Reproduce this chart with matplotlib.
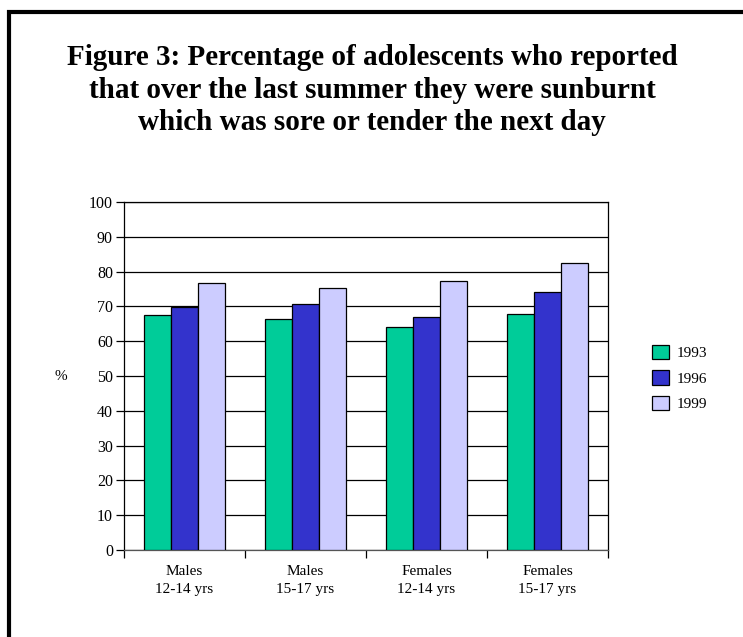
import matplotlib.pyplot as plt
from matplotlib.patches import Rectangle, Patch
import numpy as np

plt.rcParams['font.family'] = ['Liberation Serif', 'DejaVu Serif']

groups = ['Males\n12-14 yrs', 'Males\n15-17 yrs', 'Females\n12-14 yrs', 'Females\n15-17 yrs']
years = ['1993', '1996', '1999']
pct_1993 = [67.5, 66.3, 64.2, 67.9]
pct_1996 = [69.9, 70.6, 67.0, 74.0]
pct_1999 = [76.8, 75.4, 77.3, 82.6]
colors = ['#00CC99', '#3333CC', '#CCCCFF']

W, H = 743, 637
fig = plt.figure(figsize=(W / 100, H / 100), dpi=100)

# heavy black frame; right and bottom edges fall outside the page
fig.patches.append(Rectangle((9 / W, -0.1), 1.2, 1 - 12 / H + 0.1,
                             transform=fig.transFigure, fill=False,
                             edgecolor='black', linewidth=3, zorder=0))

fig.text(372 / W, 1 - 90 / H,
         'Figure 3: Percentage of adolescents who reported\n'
         'that over the last summer they were sunburnt\n'
         'which was sore or tender the next day',
         ha='center', va='center', fontsize=21, fontweight='bold',
         linespacing=1.27)

ax = fig.add_axes([124 / W, 1 - 550 / H, 484 / W, 348 / H])

x = np.arange(len(groups)) + 0.5
bw = 0.2246
for i, (vals, c) in enumerate(zip([pct_1993, pct_1996, pct_1999], colors)):
    ax.bar(x + (i - 1) * bw, vals, bw, color=c, edgecolor='black',
           linewidth=0.9, zorder=3, label=years[i])

ax.set_xlim(0, 4)
ax.set_ylim(0, 100)
ax.set_yticks(np.arange(0, 101, 10))
ax.yaxis.grid(True, color='black', linewidth=0.9, zorder=0)
ax.set_xticks(np.arange(0, 5))
ax.set_xticklabels([])
ax.set_xticks(x, minor=True)
ax.set_xticklabels(groups, minor=True, fontsize=11, linespacing=1.45)
ax.tick_params(axis='x', which='major', length=6, width=0.9, direction='out')
ax.tick_params(axis='x', which='minor', length=0, pad=11)
ax.tick_params(axis='y', length=6, width=0.9, labelsize=11.5, pad=2)
for s in ax.spines.values():
    s.set_linewidth(0.9)
ax.spines['bottom'].set_color('#555555')

fig.text(61 / W, 1 - 377 / H, '%', ha='center', va='center', fontsize=11)

handles = [Patch(facecolor=c, edgecolor='black', linewidth=0.9) for c in colors]
fig.legend(handles, years, loc='center left', bbox_to_anchor=(638 / W, 1 - 378 / H),
           frameon=False, fontsize=11, handlelength=1.1, handleheight=1.1,
           handletextpad=0.5, labelspacing=0.65)

fig.savefig('out.png', dpi=100)
